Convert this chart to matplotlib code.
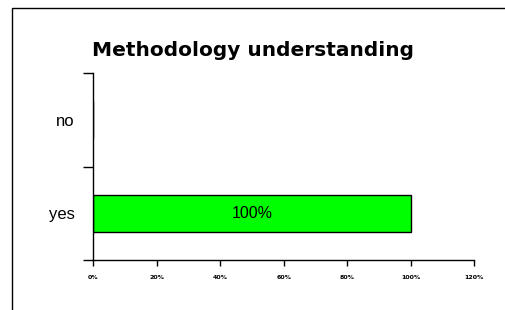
import matplotlib
matplotlib.use("Agg")
import matplotlib.pyplot as plt
from matplotlib.patches import Rectangle

categories = ["yes", "no"]
values = [100, 0]
bar_labels = ["100%", ""]
x_ticks = [0, 20, 40, 60, 80, 100, 120]
x_tick_labels = ["0%", "20%", "40%", "60%", "80%", "100%", "120%"]
title = "Methodology understanding"

fig = plt.figure(figsize=(5.06, 3.10), dpi=100)
fig.patches.append(Rectangle((12/506, -0.1), 1.2, 1 - 8/310 + 0.1, transform=fig.transFigure,
                             fill=False, edgecolor="black", linewidth=1.0))
ax = fig.add_axes([93/506, 1 - 260/310, (474.5 - 93)/506, (260 - 73)/310])

pos = list(range(len(categories)))
bars = ax.barh(pos, values, height=0.4, color="#00ff00", edgecolor="black", linewidth=1.0)
for p, v, lab in zip(pos, values, bar_labels):
    if lab:
        ax.text(v / 2, p, lab, ha="center", va="center", fontsize=11.5,
                family="Liberation Sans", color="black")

ax.set_xlim(0, 120)
ax.set_ylim(-0.5, len(categories) - 0.5)
ax.set_xticks(x_ticks)
ax.set_xticklabels(x_tick_labels, fontsize=4.5, fontweight="bold")
ax.set_yticks([-0.5, 0.5, 1.5])
ax.set_yticklabels([])
ax.set_yticks(pos, minor=True)
ax.set_yticklabels(categories, minor=True, fontsize=12, family="Liberation Sans")
ax.tick_params(axis="y", which="minor", length=0, pad=13)
ax.tick_params(axis="y", which="major", length=7, width=1.0, direction="out")
ax.tick_params(axis="x", length=4, width=1.0, direction="out", pad=7)
for s in ["top", "right"]:
    ax.spines[s].set_visible(False)
for s in ["left", "bottom"]:
    ax.spines[s].set_linewidth(1.0)

fig.text(253/506, 1 - 51/310, title, ha="center", va="center", fontsize=14.5, fontweight="bold")

fig.savefig("out.png", dpi=100)
